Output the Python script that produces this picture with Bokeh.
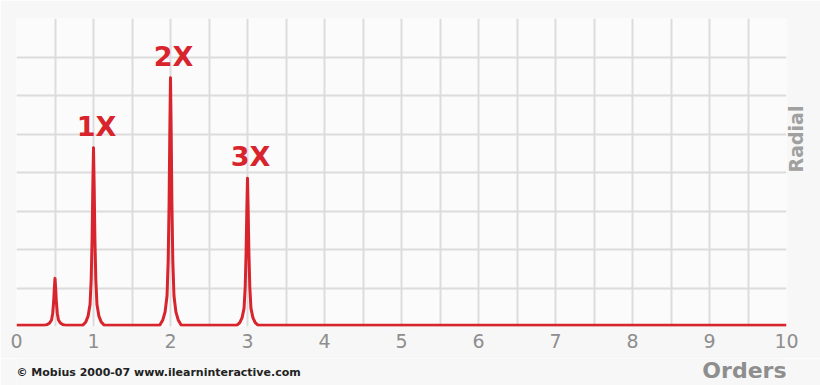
import math
from bokeh.plotting import figure
from bokeh.layouts import column
from bokeh.models import FixedTicker, ColumnDataSource, Range1d, LinearAxis
from bokeh.core.properties import value
from bokeh.embed import file_html
from bokeh.resources import INLINE

# Spectrum trace (order, amplitude in grid units)
orders = [0.0,
          0.36, 0.40, 0.43, 0.455, 0.47, 0.482, 0.491, 0.5, 0.509, 0.518, 0.53, 0.545, 0.57, 0.60, 0.64,
          0.86, 0.90, 0.93, 0.955, 0.97, 0.982, 0.991, 1.0, 1.009, 1.018, 1.03, 1.045, 1.07, 1.10, 1.14,
          1.86, 1.90, 1.93, 1.955, 1.97, 1.982, 1.991, 2.0, 2.009, 2.018, 2.03, 2.045, 2.07, 2.10, 2.14,
          2.86, 2.90, 2.93, 2.955, 2.97, 2.982, 2.991, 3.0, 3.009, 3.018, 3.03, 3.045, 3.07, 3.10, 3.14,
          10.0]
amplitude = [0.03,
             0.03, 0.05, 0.09, 0.17, 0.34, 0.63, 0.98, 1.25, 0.98, 0.63, 0.34, 0.17, 0.09, 0.05, 0.03,
             0.03, 0.12, 0.27, 0.57, 1.22, 2.30, 3.60, 4.64, 3.60, 2.30, 1.22, 0.57, 0.27, 0.12, 0.03,
             0.03, 0.17, 0.38, 0.80, 1.71, 3.23, 5.05, 6.46, 5.05, 3.23, 1.71, 0.80, 0.38, 0.17, 0.03,
             0.03, 0.10, 0.23, 0.47, 1.02, 1.93, 3.00, 3.85, 3.00, 1.93, 1.02, 0.47, 0.23, 0.10, 0.03,
             0.03]

# Peak annotations
peak_labels = ["1X", "2X", "3X"]
peak_orders = [1.0, 2.0, 3.0]
peak_heights = [4.64, 6.46, 3.85]

x_tick_values = [0, 1, 2, 3, 4, 5, 6, 7, 8, 9, 10]
x_grid_values = [i * 0.5 for i in range(21)]
y_grid_values = [0, 1, 2, 3, 4, 5, 6, 7, 8]

x_title = "Orders"
y_title = "Radial"
credit = "\u00a9 Mobius 2000-07 www.ilearninteractive.com"

RED = "#d8242c"
GRAY = "#8e8e8e"
BG_OUT = "#f7f7f7"

xr = Range1d(0, 10)

p = figure(width=820, height=358, output_backend="svg", toolbar_location=None,
           x_range=xr, y_range=Range1d(0, 8),
           y_axis_location=None,
           min_border_left=16, min_border_right=0, min_border_top=18, min_border_bottom=32)

p.background_fill_color = "#fbfbfb"
p.border_fill_color = BG_OUT
p.outline_line_color = None

p.xgrid.ticker = FixedTicker(ticks=x_grid_values)
p.ygrid.ticker = FixedTicker(ticks=y_grid_values)
for g in (p.xgrid, p.ygrid):
    g.grid_line_color = "#dcdcdc"
    g.grid_line_width = 2

ax = p.xaxis[0]
ax.ticker = FixedTicker(ticks=x_tick_values)
ax.axis_line_color = None
ax.major_tick_line_color = None
ax.minor_tick_line_color = None
ax.major_tick_out = 0
ax.major_tick_in = 0
ax.major_label_standoff = 7
ax.major_label_text_font = "DejaVu Sans"
ax.major_label_text_font_size = "19px"
ax.major_label_text_color = GRAY

# right-hand axis carrying only the "Radial" caption
rax = LinearAxis(ticker=FixedTicker(ticks=[]), axis_label=y_title,
                 axis_line_color=None, major_tick_line_color=None, minor_tick_line_color=None,
                 major_label_text_font_size="0px", major_tick_out=0, major_tick_in=0,
                 major_label_standoff=0, axis_label_standoff=9,
                 axis_label_orientation=math.pi / 2,
                 axis_label_text_font="DejaVu Sans", axis_label_text_font_style="bold",
                 axis_label_text_font_size="19px", axis_label_text_color="#a0a0a0")
p.add_layout(rax, "right")

src = ColumnDataSource(dict(x=orders, y=amplitude))
p.line("x", "y", source=src, line_color=RED, line_width=3, line_join="round")

lsrc = ColumnDataSource(dict(x=peak_orders, y=peak_heights, t=peak_labels))
p.text("x", "y", text="t", source=lsrc, text_font=value("DejaVu Sans"),
       text_font_style="bold", text_font_size="27px", text_color=RED,
       text_align="center", text_baseline="bottom", x_offset=3, y_offset=-6)

# footer strip sharing the x scale: credit line (left) and axis title (right)
f = figure(width=820, height=27, output_backend="svg", toolbar_location=None,
           x_range=xr, y_range=Range1d(0, 1),
           x_axis_location=None, y_axis_location=None,
           min_border_left=16, min_border_right=34, min_border_top=0, min_border_bottom=0)
f.grid.visible = False
f.outline_line_color = None
f.background_fill_color = BG_OUT
f.border_fill_color = BG_OUT
f.text(x=[xr.start], y=[0.5], text=[credit], text_font=value("DejaVu Sans"),
       text_font_style="bold", text_font_size="11px", text_color="#222222",
       text_align="left", text_baseline="middle")
f.text(x=[xr.end], y=[0.55], text=[x_title], text_font=value("DejaVu Sans"),
       text_font_style="bold", text_font_size="22px", text_color=GRAY,
       text_align="right", text_baseline="middle")

layout = column(p, f, spacing=0)
open("out.html", "w").write(file_html(layout, INLINE))
